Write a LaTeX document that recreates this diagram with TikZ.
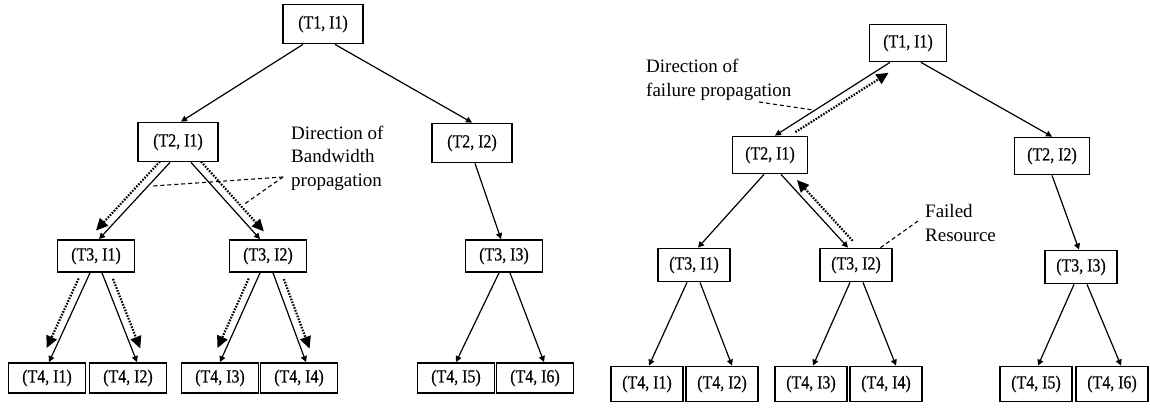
\documentclass[tikz,border=0pt]{standalone}
\usepackage{fontspec}
\setmainfont{Liberation Serif}
\newfontfamily\boxfont[FakeStretch=0.86,FakeBold=0.6]{Liberation Serif}
\usetikzlibrary{arrows.meta,calc}
\newcommand\dotalong[5]{\draw[dotarr] ($#1!#3!#2!8pt!#5:#2$) -- ($#1!#4!#2!8pt!#5:#2$);}
\begin{document}
\begin{tikzpicture}[x=1pt,y=-1pt,
  box/.style={draw,line width=1.8pt,inner sep=0pt,font=\boxfont\fontsize{18.5}{18.5}\selectfont},
  bA/.style={box,minimum width=80pt,minimum height=39pt},
  bB/.style={box,minimum width=77pt,minimum height=32pt},
  bC/.style={box,minimum width=77pt,minimum height=30pt},
  rA/.style={box,minimum width=77pt,minimum height=37pt},
  rB/.style={box,minimum width=75pt,minimum height=37pt},
  rC/.style={box,minimum width=72pt,minimum height=33pt},
  rD/.style={box,minimum width=72pt,minimum height=35pt},
  edge/.style={line width=1.2pt,-{Triangle[length=6pt,width=6pt]}},
  dotarr/.style={line width=2.2pt,dash pattern=on 1.6pt off 1.4pt,-{Triangle[length=12pt,width=11pt]}},
  lead/.style={line width=1.1pt,dash pattern=on 4pt off 3pt},
  lab/.style={align=left,inner sep=0pt,font=\fontsize{19}{23.5}\selectfont}]
\useasboundingbox (0,0) rectangle (1150,409);
% ---------- left tree ----------
\node[bA] (L1) at (323,24) {(T1, I1)};
\node[bA] (L21) at (178,142) {(T2, I1)};
\node[bA] (L22) at (472,143) {(T2, I2)};
\node[bB] (L31) at (96,256) {(T3, I1)};
\node[bB] (L32) at (268,256) {(T3, I2)};
\node[bB] (L33) at (504,256) {(T3, I3)};
\node[bC] (L41) at (47,378) {(T4, I1)};
\node[bC] (L42) at (128,378) {(T4, I2)};
\node[bC] (L43) at (220,378) {(T4, I3)};
\node[bC] (L44) at (299,378) {(T4, I4)};
\node[bC] (L45) at (456,378) {(T4, I5)};
\node[bC] (L46) at (535,378) {(T4, I6)};
\draw[edge] ([xshift=-20pt]L1.south) -- ([xshift=3pt]L21.north);
\draw[edge] ([xshift=12pt]L1.south) -- (L22.north);
\draw[edge] ([xshift=-8pt]L21.south) -- ([xshift=3pt]L31.north);
\draw[edge] ([xshift=13pt]L21.south) -- ([xshift=-8pt]L32.north);
\draw[edge] ([xshift=3pt]L22.south) -- ([xshift=-3pt]L33.north);
\draw[edge] ([xshift=-6pt]L31.south) -- ([xshift=2pt]L41.north);
\draw[edge] ([xshift=6pt]L31.south) -- ([xshift=9pt]L42.north);
\draw[edge] ([xshift=-8pt]L32.south) -- (L43.north);
\draw[edge] ([xshift=5pt]L32.south) -- ([xshift=7pt]L44.north);
\draw[edge] ([xshift=-5pt]L33.south) -- (L45.north);
\draw[edge] ([xshift=6pt]L33.south) -- ([xshift=9pt]L46.north);
\dotalong{([xshift=-8pt]L21.south)}{([xshift=3pt]L31.north)}{0.06}{0.96}{-90}
\dotalong{([xshift=13pt]L21.south)}{([xshift=-8pt]L32.north)}{0.06}{0.97}{90}
\dotalong{([xshift=-6pt]L31.south)}{([xshift=2pt]L41.north)}{0.1}{0.88}{-90}
\dotalong{([xshift=6pt]L31.south)}{([xshift=9pt]L42.north)}{0.1}{0.88}{90}
\dotalong{([xshift=-8pt]L32.south)}{(L43.north)}{0.1}{0.88}{-90}
\dotalong{([xshift=5pt]L32.south)}{([xshift=7pt]L44.north)}{0.1}{0.88}{90}
\node[lab,anchor=west] (labBW) at (291,158) {Direction of\\Bandwidth\\propagation};
\coordinate (lp) at (283,177);
\coordinate (lq1) at (153,186);
\coordinate (lq2) at (243,205);
\draw[lead] (lp) -- (lq1);
\draw[lead] (lp) -- (lq2);
% ---------- right tree ----------
\node[rA] (R1) at (908,43) {(T1, I1)};
\node[rB] (R21) at (770,155) {(T2, I1)};
\node[rB] (R22) at (1052,156) {(T2, I2)};
\node[rC] (R31) at (694,265) {(T3, I1)};
\node[rC] (R32) at (856,265) {(T3, I2)};
\node[rC] (R33) at (1081,267) {(T3, I3)};
\node[rD] (R41) at (647,384) {(T4, I1)};
\node[rD] (R42) at (722,384) {(T4, I2)};
\node[rD] (R43) at (811,384) {(T4, I3)};
\node[rD] (R44) at (886,384) {(T4, I4)};
\node[rD] (R45) at (1036,384) {(T4, I5)};
\node[rD] (R46) at (1112,384) {(T4, I6)};
\draw[edge] ([xshift=-18pt]R1.south) -- ([xshift=5pt]R21.north);
\draw[edge] ([xshift=13pt]R1.south) -- (R22.north);
\draw[edge] ([xshift=-6pt]R21.south) -- ([xshift=4pt]R31.north);
\draw[edge] ([xshift=11pt]R21.south) -- ([xshift=-8pt]R32.north);
\draw[edge] (R22.south) -- ([xshift=-2pt]R33.north);
\draw[edge] ([xshift=-7pt]R31.south) -- ([xshift=2pt]R41.north);
\draw[edge] ([xshift=6pt]R31.south) -- ([xshift=10pt]R42.north);
\draw[edge] ([xshift=-6pt]R32.south) -- ([xshift=2pt]R43.north);
\draw[edge] ([xshift=7pt]R32.south) -- ([xshift=10pt]R44.north);
\draw[edge] ([xshift=-7pt]R33.south) -- ([xshift=2pt]R45.north);
\draw[edge] ([xshift=6pt]R33.south) -- ([xshift=9pt]R46.north);
\dotalong{([xshift=-18pt]R1.south)}{([xshift=5pt]R21.north)}{0.86}{0.05}{90}
\dotalong{([xshift=11pt]R21.south)}{([xshift=-8pt]R32.north)}{0.98}{0.15}{90}
\node[lab,anchor=west] (labFP) at (646,80) {Direction of\\failure propagation};
\coordinate (fp) at (759,102);
\coordinate (fq) at (813,110);
\draw[lead] (fp) -- (fq);
\node[lab,anchor=west] (labFR) at (925,223) {Failed\\Resource};
\coordinate (rp) at (918,221);
\coordinate (rq) at (880,248);
\draw[lead] (rp) -- (rq);
\end{tikzpicture}
\end{document}
